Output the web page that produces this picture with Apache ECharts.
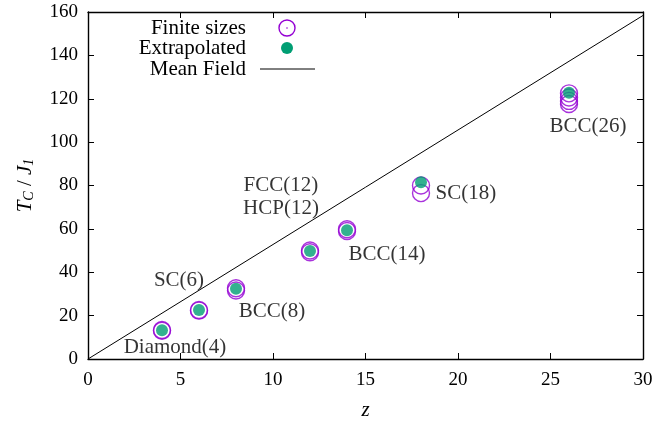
<!DOCTYPE html>
<html><head><meta charset="utf-8">
<script src="https://cdn.jsdelivr.net/npm/echarts@6/dist/echarts.min.js"></script>
<style>html,body{margin:0;padding:0;background:#fff}#c{width:666px;height:421px}</style>
</head><body><div id="c"></div>
<script>
// Finite-size estimates (open circles)
const finiteZ = [4, 4, 6, 6, 8, 8, 12, 12, 14, 14, 18, 18, 26, 26, 26, 26];
const finiteT = [13.4, 13.0, 22.6, 22.3, 31.6, 32.6, 49.2, 50.0, 59.0, 59.8, 80.0, 76.5, 122.5, 120.6, 119.0, 117.6];
// Extrapolated values (filled dots)
const extrapZ = [4, 6, 8, 12, 14, 18, 26];
const extrapT = [13.3, 22.6, 32.4, 49.8, 59.4, 81.5, 122.8];
// Mean field line
const mfZ = [0, 30];
const mfT = [0, 158.4];
// Lattice labels
const labelText = ['Diamond(4)', 'SC(6)', 'BCC(8)', 'FCC(12)', 'HCP(12)', 'BCC(14)', 'SC(18)', 'BCC(26)'];
const labelZ = [4.7, 4.92, 9.95, 10.43, 10.43, 16.16, 20.43, 27.03];
const labelT = [5.1, 36.4, 21.7, 79.8, 69.2, 48.4, 76.5, 107.4];
// Axis ticks
const xTicks = [0, 5, 10, 15, 20, 25, 30];
const yTicks = [0, 20, 40, 60, 80, 100, 120, 140, 160];

const FONT = 'Liberation Serif';
const PURPLE = '#9400d3', GREEN = '#009e73';
const chart = echarts.init(document.getElementById('c'));
const axisCommon = {
  axisLine: {show: true, onZero: false, lineStyle: {color: '#000', width: 1.4}},
  axisTick: {show: true, inside: true, length: 6, lineStyle: {color: '#000'}},
  splitLine: {show: false},
  axisLabel: {color: '#000', fontFamily: FONT, fontSize: 19}
};
chart.setOption({
  animation: false,
  grid: {left: 88, right: 23, top: 12, bottom: 62, containLabel: false, outerBoundsMode: 'none'},
  xAxis: [
    Object.assign({type: 'value', min: xTicks[0], max: xTicks[xTicks.length-1], interval: 5, position: 'bottom',
      name: 'z', nameLocation: 'middle', nameGap: 41,
      nameTextStyle: {color: '#000', fontFamily: FONT, fontSize: 21, fontStyle: 'italic'}}, axisCommon,
      {axisLabel: Object.assign({}, axisCommon.axisLabel, {margin: 12})}),
    Object.assign({type: 'value', min: 0, max: 30, interval: 5, position: 'top'}, axisCommon, {axisLabel: {show: false}})
  ],
  yAxis: [
    Object.assign({type: 'value', min: yTicks[0], max: yTicks[yTicks.length-1], interval: 20, position: 'left',
      name: '{i|T}{s|C}{n| / }{i|J}{s|1}', nameLocation: 'middle', nameGap: 52, nameRotate: 90,
      nameTextStyle: {color: '#000', fontFamily: FONT, fontSize: 21,
        rich: {i: {fontFamily: FONT, fontSize: 21, fontStyle: 'italic', verticalAlign: 'middle'},
               s: {fontFamily: FONT, fontSize: 14, fontStyle: 'italic', verticalAlign: 'bottom', padding: [8,0,0,0]},
               n: {fontFamily: FONT, fontSize: 21}}}}, axisCommon,
      {axisLabel: Object.assign({}, axisCommon.axisLabel, {margin: 10})}),
    Object.assign({type: 'value', min: 0, max: 160, interval: 20, position: 'right'}, axisCommon, {axisLabel: {show: false}})
  ],
  series: [
    {type: 'line', name: 'Mean Field', data: mfZ.map((z, i) => [z, mfT[i]]), showSymbol: false,
      lineStyle: {color: '#000', width: 1}, z: 1},
    {type: 'scatter', name: 'Finite sizes', data: finiteZ.map((z, i) => [z, finiteT[i]]), symbol: 'circle', symbolSize: 17,
      itemStyle: {color: 'rgba(0,0,0,0)', borderColor: PURPLE, borderWidth: 1.4}, z: 2},
    {type: 'scatter', name: 'Extrapolated', data: extrapZ.map((z, i) => [z, extrapT[i]]), symbol: 'circle', symbolSize: 12,
      itemStyle: {color: GREEN}, z: 3},
    {type: 'scatter', name: 'labels', data: labelZ.map((z, i) => [z, labelT[i], labelText[i]]), symbolSize: 0,
      label: {show: true, position: 'inside', formatter: p => p.data[2], color: '#000', textBorderWidth: 0,
        fontFamily: FONT, fontSize: 21}, z: 4, silent: true}
  ],
  graphic: [
    {type: 'text', x: 246, y: 28, style: {text: 'Finite sizes', font: '21px "Liberation Serif"', fill: '#000', align: 'right', verticalAlign: 'middle'}},
    {type: 'text', x: 246, y: 48, style: {text: 'Extrapolated', font: '21px "Liberation Serif"', fill: '#000', align: 'right', verticalAlign: 'middle'}},
    {type: 'text', x: 246, y: 69, style: {text: 'Mean Field', font: '21px "Liberation Serif"', fill: '#000', align: 'right', verticalAlign: 'middle'}},
    {type: 'circle', shape: {cx: 287, cy: 28, r: 8}, style: {fill: 'none', stroke: PURPLE, lineWidth: 1.4}},
    {type: 'circle', shape: {cx: 287, cy: 28, r: 0.8}, style: {fill: PURPLE}},
    {type: 'circle', shape: {cx: 287, cy: 48, r: 6}, style: {fill: GREEN}},
    {type: 'line', shape: {x1: 260, y1: 69, x2: 315, y2: 69}, style: {stroke: '#000', lineWidth: 1}}
  ]
});
</script></body></html>
